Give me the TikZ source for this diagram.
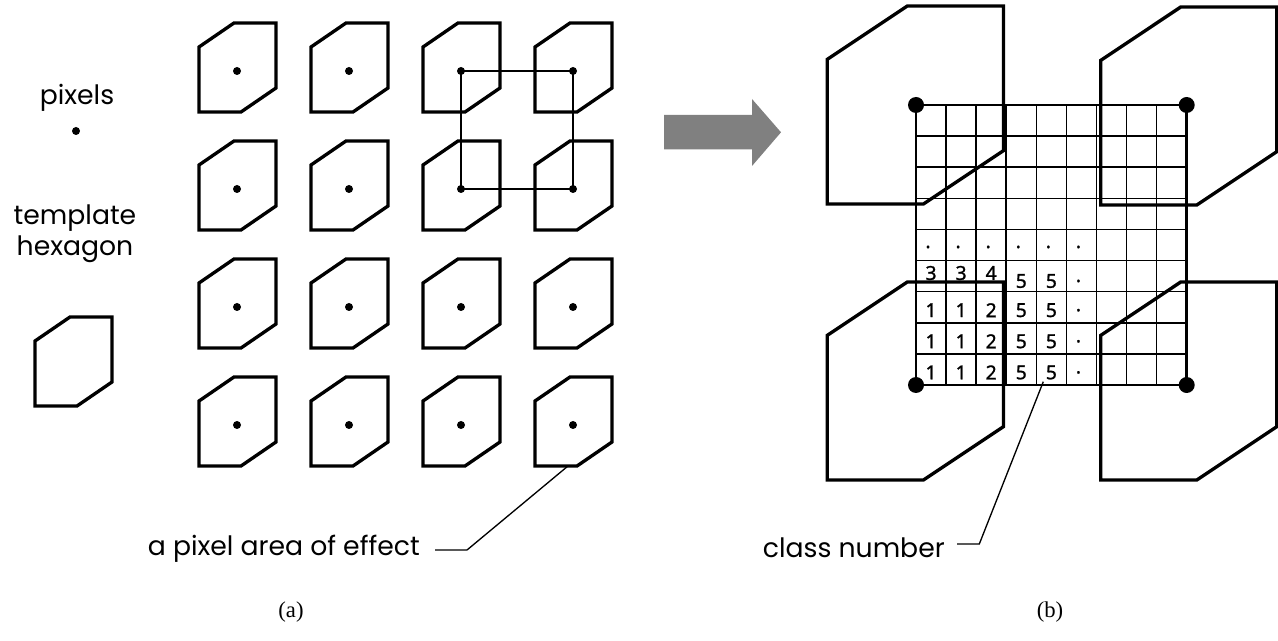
\documentclass[tikz,border=0pt]{standalone}
\usepackage{fontspec}
\setmainfont{Poppins}
\newfontfamily\capfont{Liberation Serif}
\newfontfamily\numfont[FakeBold=1.2]{Noto Sans}
\definecolor{arrowgray}{RGB}{128,128,128}
\begin{document}
\begin{tikzpicture}[x=0.75pt,y=-0.75pt,
  hexline/.style={line width=2.5pt, line join=miter},
  gridline/.style={line width=1.2pt},
  borderline/.style={line width=2pt},
  linkline/.style={line width=1pt},
  leader/.style={line width=1pt},
  pixdot/.style={circle, fill=black, inner sep=0pt, minimum size=6pt},
  bigdot/.style={circle, fill=black, inner sep=0pt, minimum size=12pt},
  lbl/.style={font=\fontsize{20}{23}\selectfont, inner sep=0pt},
  capt/.style={font=\capfont\fontsize{17}{19}\selectfont, inner sep=0pt},
  num/.style={font=\numfont\fontsize{14.5}{14.5}\selectfont, inner sep=0pt},
  hexa/.pic={\draw[hexline] (0,0) -- (42,0) -- (77,-24) -- (77,-89) -- (35,-89) -- (0,-65) -- cycle;}]
\useasboundingbox (0,0) rectangle (1278,641);

% ---- (a): pixels and their hexagonal areas of effect ----
\foreach \c/\x in {1/237,2/349,3/461,4/573}
  \foreach \r/\y in {1/71,2/189,3/307,4/425} {
    \pic at (\x-38,\y+41) {hexa};
    \node[pixdot] (p\r\c) at (\x,\y) {};
  }
\draw[linkline] (p13.center) -- (p14.center) -- (p24.center) -- (p23.center) -- cycle;

% legend
\node[lbl] (pixlbl) at (77,98) {pixels};
\node[pixdot] (legdot) at (76,131) {};
\node[lbl, align=center] (tmpl) at (75,234) {template\\hexagon};
\pic at (35,406) {hexa};

\node[lbl, anchor=east] (areal) at (420,549) {a pixel area of effect};
\coordinate (a1) at (435,550);
\coordinate (a2) at (467,550);
\coordinate (a3) at (568,466);
\draw[leader] (a1) -- (a2) -- (a3);

\node[capt] (capa) at (291,612) {(a)};

% ---- arrow ----
\fill[arrowgray] (664,115) -- (752,115) -- (752,99) -- (781,132.3) -- (752,166) -- (752,149.3) -- (664,149.3) -- cycle;

% ---- (b): enlarged cell between four pixels ----
\foreach \i in {1,...,8} {
  \draw[gridline] ({916+\i*30.08},105) -- ({916+\i*30.08},385);
  \draw[gridline] (916,{105+\i*31.11}) -- (1186.7,{105+\i*31.11});
}
\node[bigdot] (q1) at (916,105) {};
\node[bigdot] (q2) at (1186.7,105) {};
\node[bigdot] (q3) at (916,385) {};
\node[bigdot] (q4) at (1186.7,385) {};
\draw[borderline] (q1.center) -- (q2.center) -- (q4.center) -- (q3.center) -- cycle;

\foreach \hx/\hy in {827.3/204, 1100.7/205, 827.3/480, 1100.7/480} {
  \begin{scope}[shift={(\hx,\hy)}, xscale=2.288, yscale=2.225]
    \pic[transform shape] {hexa};
  \end{scope}
}

% class numbers
\foreach \i in {1,...,6}
  \node[num] (d5\i) at ({916+(\i-0.5)*30.08-3},247) {.};
\foreach \i/\t in {1/3,2/3,3/4}
  \node[num] (n6\i) at ({916+(\i-0.5)*30.08},273) {\t};
\foreach \i/\t in {4/5,5/5}
  \node[num] (n6\i) at ({916+(\i-0.5)*30.08},281) {\t};
\node[num] (d66) at ({916+5.5*30.08-3},281) {.};
\foreach \r in {7,8,9} {
  \foreach \i/\t in {1/1,2/1,3/2,4/5,5/5}
    \node[num] (n\r\i) at ({916+(\i-0.5)*30.08},{105+(\r-0.5)*31.11+3}) {\t};
  \node[num] (d\r6) at ({916+5.5*30.08-3},{105+(\r-0.5)*31.11+3}) {.};
}

\node[lbl, anchor=east] (classl) at (945,548) {class number};
\coordinate (b1) at (957,544);
\coordinate (b2) at (979.3,544);
\coordinate (b3) at (1043.3,381.7);
\draw[leader] (b1) -- (b2) -- (b3);

\node[capt] (capb) at (1050,612) {(b)};
\end{tikzpicture}
\end{document}
